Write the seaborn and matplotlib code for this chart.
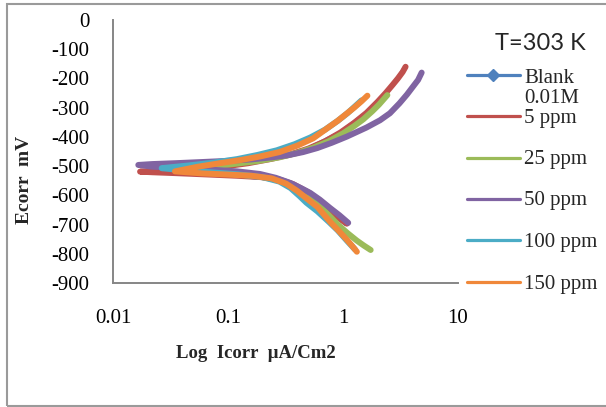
import numpy as np
import pandas as pd
import seaborn as sns
import matplotlib
matplotlib.use("Agg")
import matplotlib.pyplot as plt
from matplotlib.lines import Line2D
from matplotlib.patches import Rectangle

# Tafel polarisation curves: current density (µA/cm2) and potential (mV),
# each traced from the anodic end, through Ecorr, to the cathodic end.
series_names = ["Blank\n0.01M", "5 ppm", "25 ppm", "50 ppm", "100 ppm", "150 ppm"]
series_colors = ["#4F81BD", "#C0504D", "#9BBB59", "#8064A2", "#4BACC6", "#F0883A"]

blank_i = [3.45, 3.0, 2.35, 1.6, 0.95, 0.5, 0.24, 0.09, 0.03, 0.019,
           0.035, 0.12, 0.28, 0.5, 0.85, 1.05]
blank_e = [-163, -200, -250, -318, -385, -440, -475, -502, -515, -519,
           -524, -533, -546, -590, -668, -698]

ppm5_i = [3.5, 3.3, 3.0, 2.7, 2.35, 2.0, 1.6, 1.25, 0.95, 0.7, 0.5, 0.35, 0.24,
          0.15, 0.09, 0.05, 0.03, 0.0172,
          0.022, 0.035, 0.07, 0.12, 0.2, 0.28, 0.37, 0.5, 0.65, 0.85, 1.08]
ppm5_e = [-160, -178, -200, -222, -250, -280, -318, -352, -385, -415, -440, -460, -475,
          -490, -502, -510, -515, -519,
          -521, -524, -529, -533, -538, -546, -562, -590, -625, -668, -697]

ppm25_i = [2.43, 2.25, 2.05, 1.8, 1.5, 1.25, 1.0, 0.75, 0.55, 0.4, 0.28, 0.18,
           0.1, 0.06, 0.035,
           0.05, 0.1, 0.18, 0.27, 0.36, 0.46, 0.58, 0.72, 0.9, 1.1, 1.32, 1.52, 1.74]
ppm25_e = [-257, -272, -290, -312, -340, -363, -388, -415, -437, -455, -470, -483,
           -495, -503, -510,
           -518, -526, -534, -548, -568, -595, -625, -660, -700, -730, -755, -772, -787]

ppm50_i = [4.83, 4.5, 4.06, 3.6, 3.1, 2.56, 2.1, 1.6, 1.08, 0.8, 0.6, 0.45, 0.33,
           0.24, 0.16, 0.1, 0.06, 0.035, 0.022, 0.0166,
           0.022, 0.035, 0.07, 0.12, 0.19, 0.26, 0.35, 0.43, 0.52, 0.63, 0.77, 0.93, 1.11]
ppm50_e = [-180, -205, -228, -255, -285, -319, -343, -368, -399, -420, -438, -452, -463,
           -470, -477, -482, -486, -490, -493, -496,
           -502, -506, -512, -518, -527, -540, -558, -575, -592, -615, -643, -668, -694]

ppm100_i = [1.45, 1.3, 1.1, 0.9, 0.7, 0.52, 0.38, 0.265, 0.18, 0.12, 0.075, 0.045,
            0.0265,
            0.04, 0.07, 0.12, 0.2, 0.28, 0.35, 0.42, 0.48, 0.6, 0.75, 0.9, 1.08, 1.27]
ppm100_e = [-275, -292, -318, -345, -375, -402, -425, -446, -462, -476, -488, -498,
            -507,
            -514, -521, -528, -538, -553, -575, -603, -625, -655, -690, -720, -755, -785]

ppm150_i = [1.63, 1.45, 1.25, 1.08, 0.9, 0.72, 0.55, 0.4, 0.28, 0.19, 0.13, 0.085,
            0.055, 0.0346,
            0.06, 0.1, 0.16, 0.24, 0.32, 0.4, 0.48, 0.6, 0.77, 0.92, 1.08, 1.2, 1.32]
ppm150_e = [-259, -278, -300, -320, -345, -372, -405, -430, -452, -467, -479, -490,
            -502, -518,
            -525, -529, -533, -542, -560, -585, -610, -640, -690, -722, -752, -773, -793]

currents = [blank_i, ppm5_i, ppm25_i, ppm50_i, ppm100_i, ppm150_i]
potentials = [blank_e, ppm5_e, ppm25_e, ppm50_e, ppm100_e, ppm150_e]

x_ticks = [0.01, 0.1, 1, 10]
x_tick_labels = ["0.01", "0.1", "1", "10"]
y_ticks = list(range(-900, 1, 100))

W, H = 606, 407
sns.set_theme(style="white")
plt.rcParams["font.family"] = ["Liberation Serif", "DejaVu Serif"]

fig = plt.figure(figsize=(W / 100, H / 100), dpi=100)
fig.patch.set_facecolor("white")


def fx(px):
    return px / W


def fy(py):
    return 1 - py / H


# outer chart-area frame (right edge runs off the canvas)
fig.add_artist(Rectangle((fx(7), fy(406)), fx(620) - fx(7), fy(4) - fy(406),
                         transform=fig.transFigure, fill=False,
                         edgecolor="#9a9a9a", lw=1.5))

ax = fig.add_axes([fx(113), fy(283), fx(458) - fx(113), fy(20) - fy(283)])
ax.set_facecolor("white")

frames = []
for name, cur, pot in zip(series_names, currents, potentials):
    frames.append(pd.DataFrame({"i": cur, "E": pot, "series": name}))
data = pd.concat(frames, ignore_index=True)

for k, (name, color) in enumerate(zip(series_names, series_colors)):
    sub = data[data["series"] == name]
    lw = 3.0 if k == 0 else 4.3
    sns.lineplot(data=sub, x="i", y="E", sort=False, estimator=None, ax=ax,
                 color=color, lw=lw, solid_capstyle="round",
                 solid_joinstyle="round", zorder=2 + k, legend=False)

ax.set_xscale("log")
ax.set_xlim(0.01, 10)
ax.set_ylim(-900, 0)
ax.set_xticks(x_ticks)
ax.set_xticklabels(x_tick_labels)
ax.xaxis.set_minor_locator(matplotlib.ticker.NullLocator())
ax.set_yticks(y_ticks)
ax.set_yticklabels([str(v) for v in y_ticks])

spine_col = "#868686"
for side in ["top", "right"]:
    ax.spines[side].set_visible(False)
for side in ["left", "bottom"]:
    ax.spines[side].set_color(spine_col)
    ax.spines[side].set_linewidth(1.4)

ax.tick_params(axis="both", which="major", direction="out", length=5,
               width=1.2, color=spine_col, labelsize=15, labelcolor="black")
ax.tick_params(axis="y", pad=12)
ax.tick_params(axis="x", pad=14)
ax.grid(False)

ax.set_xlabel("Log  Icorr  µA/Cm2", fontsize=13.5, fontweight="bold", va="center")
ax.xaxis.set_label_coords((255.5 - 113) / 345, (283 - 353) / 263)
ax.set_ylabel("")
fig.text(fx(25), fy(180), "Ecorr  mV", rotation=90, fontsize=14,
         fontweight="bold", ha="center", va="center")

fig.text(fx(540), fy(44), "T=303 K", fontsize=17, family=["Lato", "DejaVu Sans"],
         ha="center", va="center")

# legend, laid out to the right of the plot area
legend_y = [75, 116, 158, 199, 240, 282]
for k, (name, color) in enumerate(zip(series_names, series_colors)):
    y = legend_y[k]
    fig.add_artist(Line2D([fx(467), fx(520)], [fy(y), fy(y)], color=color,
                          lw=2.3, transform=fig.transFigure))
    if k == 0:
        fig.add_artist(Line2D([fx(493.5)], [fy(y)], color=color, marker="D",
                              markersize=6, transform=fig.transFigure))
        fig.text(fx(524), fy(y - 6), name, fontsize=15, ha="left", va="top",
                 linespacing=1.1)
    else:
        fig.text(fx(524), fy(y + 2), name, fontsize=15, ha="left", va="center")

fig.savefig("out.png", dpi=100)
